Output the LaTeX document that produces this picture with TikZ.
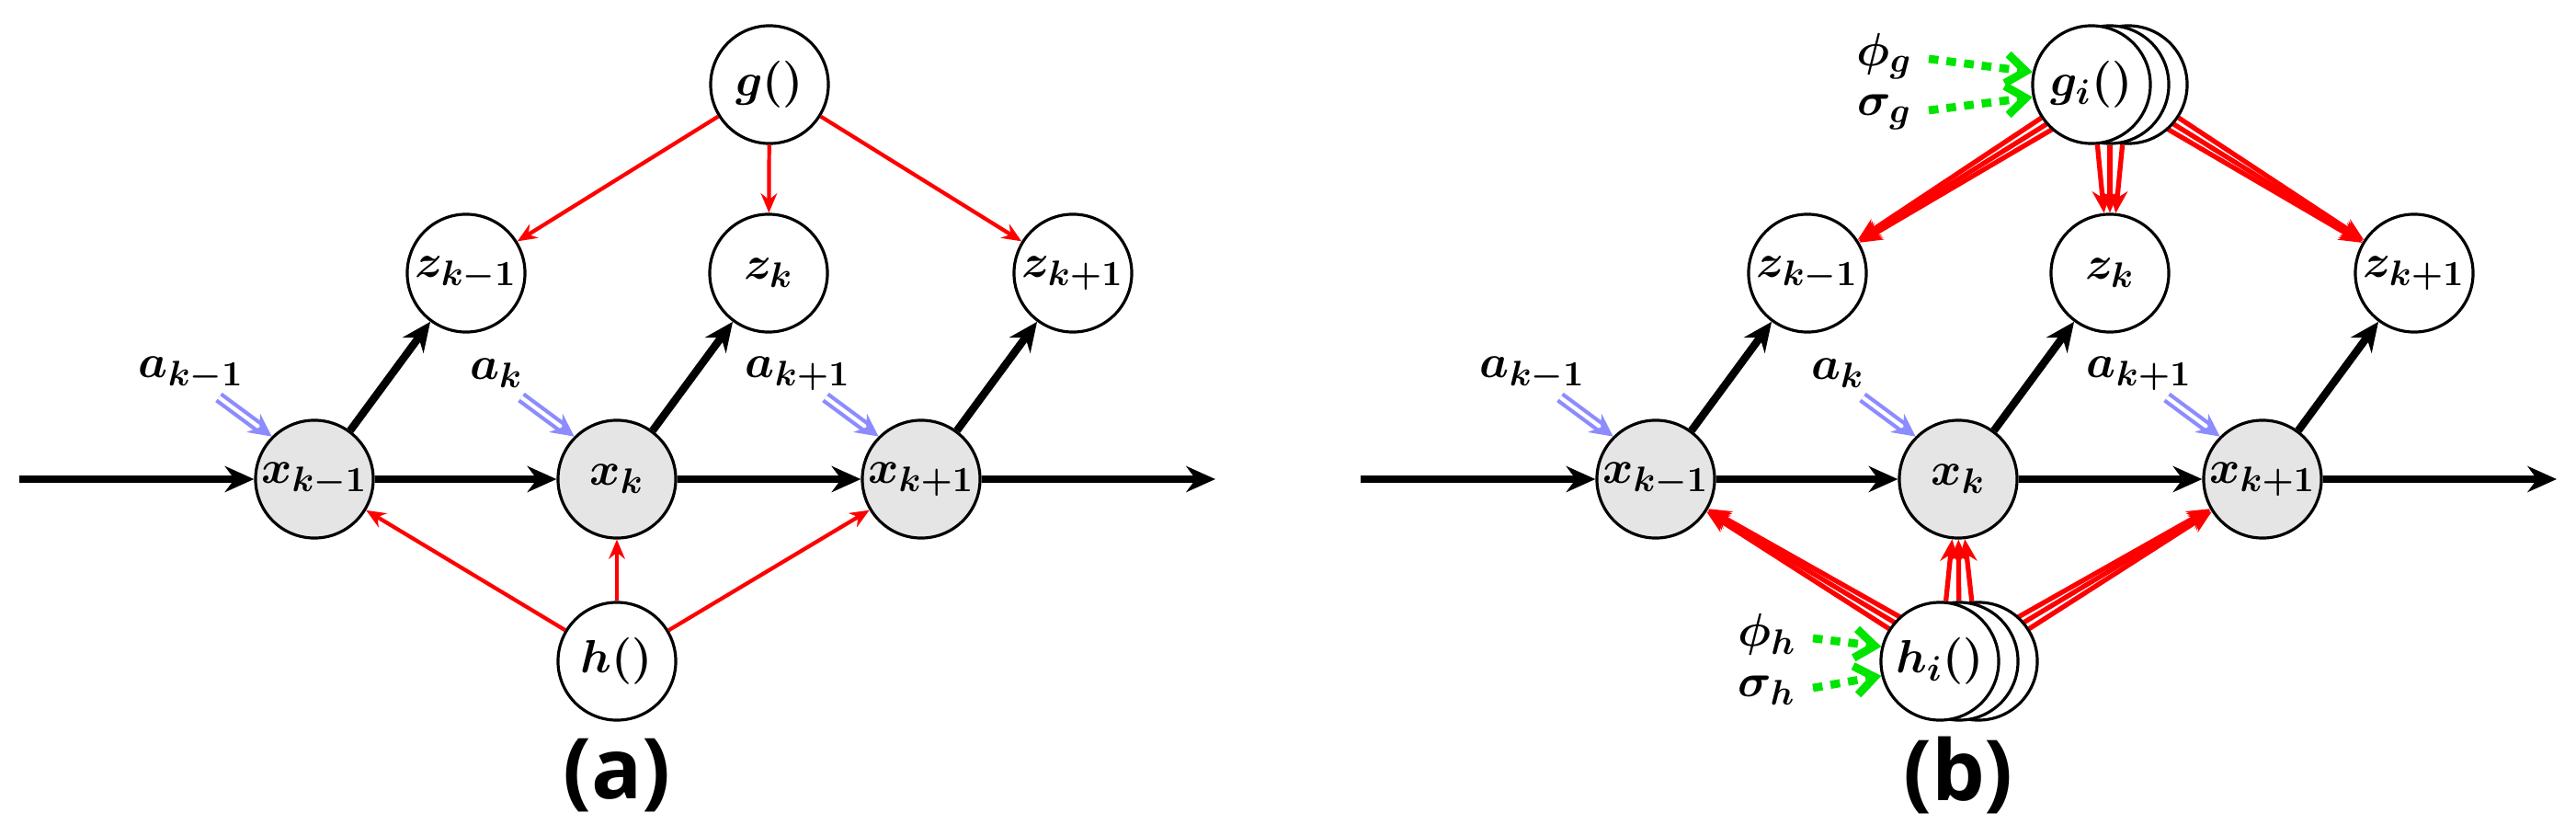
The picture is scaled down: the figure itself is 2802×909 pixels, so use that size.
\documentclass[tikz,border=0pt]{standalone}
\usepackage{amsmath,bm}
\usepackage{fontspec}
\newfontfamily\labfont{Open Sans}
\usetikzlibrary{arrows.meta,backgrounds}
\begin{document}
\begin{tikzpicture}[x=0.01cm,y=-0.01cm,
  every node/.style={font=\fontsize{15.5}{18}\selectfont},
  rv/.style={circle,draw,line width=0.9pt,minimum size=1.28cm,inner sep=0pt},
  obs/.style={rv,fill=gray!20},
  fn/.style={rv,fill=white},
  blk/.style={line width=2.4pt,-{Stealth[length=9pt,width=8pt]}},
  red1/.style={red,line width=1.2pt,-{Stealth[length=6pt,width=5pt]}},
  red3/.style={red,line width=1.5pt,-{Stealth[length=7pt,width=6pt]}},
  act/.style={blue!45,line width=1.2pt,double=white,double distance=1.2pt,-{Stealth[length=7pt,width=7pt]}},
  grn/.style={green!90!black,line width=2.5pt,dash pattern=on 3pt off 2.5pt,-{Straight Barb[length=6pt,width=9pt]}},
  lbl/.style={inner sep=1pt},
  ptitle/.style={font=\labfont\fontsize{26}{30}\selectfont\bfseries}]
\useasboundingbox (0,0) rectangle (2802,909);
\foreach \p/\o in {a/0,b/1459}{
\begin{scope}[xshift=\o*0.01cm]
  \node[obs] (\p xm) at (342,521) {$\bm{x_{k-1}}$};
  \node[obs] (\p x) at (671,521) {$\bm{x_{k}}$};
  \node[obs] (\p xp) at (1002,521) {$\bm{x_{k+1}}$};
  \node[rv] (\p zm) at (507,297) {$\bm{z_{k-1}}$};
  \node[rv] (\p z) at (836,297) {$\bm{z_{k}}$};
  \node[rv] (\p zp) at (1167,297) {$\bm{z_{k+1}}$};
  \coordinate (\p s) at (21,521);
  \coordinate (\p e) at (1322,521);
  \draw[blk] (\p s) -- (\p xm);
  \draw[blk] (\p xm) -- (\p x);
  \draw[blk] (\p x) -- (\p xp);
  \draw[blk] (\p xp) -- (\p e);
  \draw[blk] (\p xm) -- (\p zm);
  \draw[blk] (\p x) -- (\p z);
  \draw[blk] (\p xp) -- (\p zp);
  \node[lbl] (\p am) at (208,406) {$\bm{a_{k-1}}$};
  \node[lbl] (\p a) at (540,406) {$\bm{a_{k}}$};
  \node[lbl] (\p ap) at (868,406) {$\bm{a_{k+1}}$};
  \coordinate (\p amt) at (238,432);
  \coordinate (\p at) at (567,432);
  \coordinate (\p apt) at (898,432);
  \draw[act] (\p amt) -- (\p xm.135);
  \draw[act] (\p at) -- (\p x.135);
  \draw[act] (\p apt) -- (\p xp.135);
\end{scope}}
% panel a
\node[fn] (g) at (837,92) {$\bm{g()}$};
\node[fn] (h) at (671,719) {$\bm{h()}$};
\draw[red1] (g) -- (azm);
\draw[red1] (g) -- (az);
\draw[red1] (g) -- (azp);
\draw[red1] (h) -- (axm);
\draw[red1] (h) -- (ax);
\draw[red1] (h) -- (axp);
\node[ptitle] (la) at (671,843) {(a)};
% panel b
\node[fn] (g3) at (2315,92) {};
\node[fn] (g2) at (2295,92) {};
\node[fn] (g1) at (2275,92) {$\bm{g_i()}$};
\node[fn] (h3) at (2152,719) {};
\node[fn] (h2) at (2131,719) {};
\node[fn] (h1) at (2110,719) {$\bm{h_i()}$};
\begin{scope}[on background layer]
\foreach \n in {1,2,3}{
  \draw[red3] (g\n) -- (bzm);
  \draw[red3] (g\n) -- (bz);
  \draw[red3] (g\n) -- (bzp);
  \draw[red3] (h\n) -- (bxm);
  \draw[red3] (h\n) -- (bx);
  \draw[red3] (h\n) -- (bxp);
}
\end{scope}
\node[lbl] (pg) at (2050,61) {$\bm{\phi_g}$};
\node[lbl] (sg) at (2050,122) {$\bm{\sigma_g}$};
\node[lbl] (ph) at (1922,690) {$\bm{\phi_h}$};
\node[lbl] (sh) at (1922,751) {$\bm{\sigma_h}$};
\coordinate (pgs) at (2098,64);
\coordinate (sgs) at (2098,120);
\coordinate (phs) at (1972,694);
\coordinate (shs) at (1972,748);
\draw[grn] (pgs) -- (g1.168);
\draw[grn] (sgs) -- (g1.192);
\draw[grn] (phs) -- (h1.166);
\draw[grn] (shs) -- (h1.194);
\node[ptitle] (lb) at (2130,843) {(b)};
\end{tikzpicture}
\end{document}
